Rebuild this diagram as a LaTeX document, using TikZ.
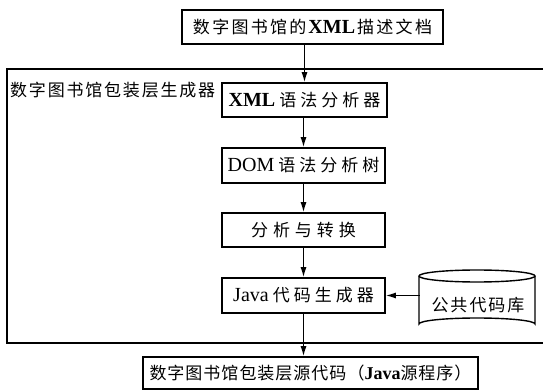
\documentclass[tikz,border=0pt]{standalone}
\usepackage{fontspec}
\setmainfont{Liberation Serif}
\newfontfamily\cjk{Noto Sans CJK SC}
\usetikzlibrary{arrows.meta}

% CJK text with extra space between the characters
\newlength\zhgap
\makeatletter
\def\zhs#1{\zhs@a#1\relax}
\def\zhs@a#1{#1\zhs@b}
\def\zhs@b#1{\ifx\relax#1\else\kern\zhgap#1\expandafter\zhs@b\fi}
\makeatother
\newcommand\zh[2]{{\setlength\zhgap{#1}\cjk\zhs{#2}}}
% Latin words set a little larger than the CJK text around them
\newcommand\lat[2][20]{{\fontsize{#1}{20}\selectfont #2}}

\tikzset{
  every node/.style={font=\fontsize{17}{20}\selectfont},
  procbox/.style={draw, line width=1.6pt, inner sep=0pt, align=center},
  arr/.style={-{Latex[length=10pt,width=6pt]}, line width=1.3pt},
  frame/.style={line width=1.6pt},
}

\begin{document}
\begin{tikzpicture}[x=1pt, y=-1pt]
\useasboundingbox (0,0) rectangle (543,390);

% generator frame (open towards the right edge)
\draw[frame] (543,69) -- (7,69) -- (7,343) -- (543,343);
\node[anchor=west, inner sep=0pt] (framelbl) at (10,90)
  {\zh{1.8pt}{数字图书馆包装层生成器}};

% input document
\node[procbox, minimum width=261, minimum height=34] (doc) at (312.5,27)
  {\zh{2.3pt}{数字图书馆的}\kern2pt\lat{\textbf{XML}}\kern2pt\zh{2.3pt}{描述文档}};

% processing stages
\node[procbox, minimum width=165, minimum height=34] (xml) at (304.5,100)
  {\lat{\textbf{XML}}\kern4pt\zh{4pt}{语法分析器}};
\node[procbox, minimum width=163, minimum height=35] (dom) at (303.5,165.5)
  {\lat{DOM}\kern4pt\zh{4pt}{语法分析树}};
\node[procbox, minimum width=163, minimum height=34] (conv) at (303.5,230)
  {\zh{5pt}{分析与转换}};
\node[procbox, minimum width=163, minimum height=35] (java) at (303.5,295.5)
  {\lat{Java}\kern4pt\zh{4pt}{代码生成器}};

% output
\node[procbox, minimum width=335, minimum height=32] (out) at (310.5,373)
  {\zh{1pt}{数字图书馆包装层源代码（}\lat[18]{\textbf{Java}}\zh{1pt}{源程序）}};

% shared code library (cylinder)
\draw[line width=1.4pt] (419,276) -- (419,324)
  arc[start angle=180, end angle=360, x radius=58, y radius=6]
  -- (535,276);
\draw[line width=1.4pt] (477,276) ellipse[x radius=58, y radius=6];
\node[minimum width=116, minimum height=54, inner sep=0pt] (lib) at (478,305)
  {\zh{2pt}{公共代码库}};

% connectors
\draw[arr] (doc.south -| xml.north) -- (xml.north);
\draw[arr] (xml.south -| dom.north) -- (dom.north);
\draw[arr] (dom.south) -- (conv.north);
\draw[arr] (conv.south) -- (java.north);
\draw[arr] (java.south) -- (java.south |- out.north);
\draw[arr] (java.east -| lib.west) -- (java.east);
\end{tikzpicture}
\end{document}
